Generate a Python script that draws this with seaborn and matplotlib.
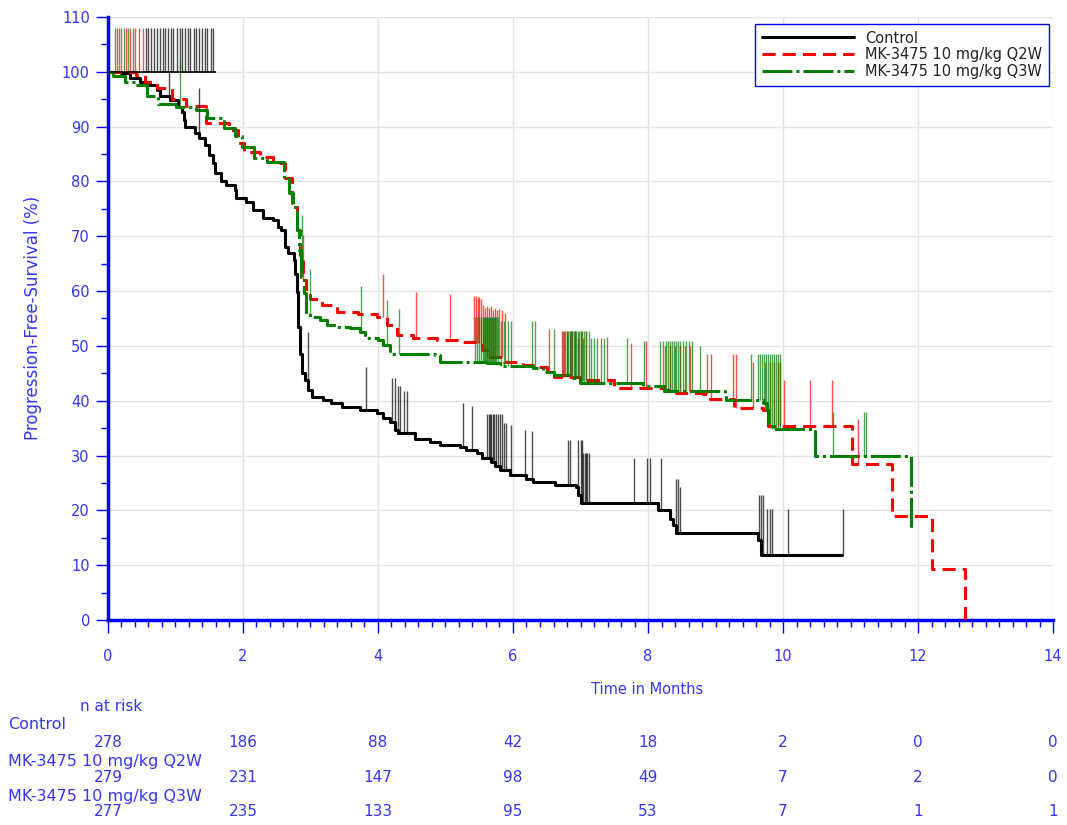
import numpy as np
import pandas as pd
import seaborn as sns
import matplotlib
matplotlib.use("Agg")
import matplotlib.pyplot as plt
from matplotlib.lines import Line2D
from matplotlib.ticker import MultipleLocator

# Kaplan-Meier step curves: time of each drop and survival (%) after it
ctrl_times = [0.20, 0.33, 0.47, 0.60, 0.72, 0.77, 0.92, 1.04, 1.09, 1.12, 1.14, 1.29, 1.35, 1.44,
              1.49, 1.56, 1.59, 1.68, 1.75, 1.88, 1.90, 2.05, 2.15, 2.30, 2.45, 2.52, 2.57, 2.62,
              2.67, 2.75, 2.77, 2.80, 2.82, 2.84, 2.87, 2.92, 2.97, 3.02, 3.19, 3.31, 3.46, 3.73,
              3.98, 4.08, 4.18, 4.25, 4.30, 4.55, 4.77, 4.92, 5.21, 5.31, 5.46, 5.54, 5.68, 5.73,
              5.81, 5.96, 6.20, 6.30, 6.62, 6.94, 6.97, 7.01, 8.15, 8.33, 8.37, 8.42, 9.63, 9.68]
ctrl_surv = [99.7, 98.8, 98.2, 97.6, 96.7, 95.5, 94.9, 93.6, 92.7, 91.2, 90.0, 88.8, 88.0, 86.6,
             84.8, 83.4, 81.6, 80.0, 79.4, 78.4, 76.9, 76.3, 74.8, 73.3, 73.0, 71.7, 71.1, 68.1,
             66.9, 65.7, 63.2, 59.9, 53.5, 48.6, 45.0, 43.8, 42.0, 40.7, 40.1, 39.5, 38.9, 38.3,
             37.7, 36.8, 36.2, 34.7, 34.1, 33.1, 32.5, 31.9, 31.6, 31.0, 30.4, 29.5, 28.9, 28.0,
             27.4, 26.5, 25.8, 25.2, 24.6, 24.3, 22.8, 21.3, 20.1, 18.5, 17.3, 15.9, 14.6, 11.9]
ctrl_end = 10.87

q2w_times = [0.42, 0.55, 0.72, 0.95, 1.15, 1.45, 1.80, 1.93, 2.02, 2.25, 2.45, 2.62, 2.72, 2.80,
             2.84, 2.89, 2.94, 2.99, 3.17, 3.39, 3.71, 3.98, 4.13, 4.28, 4.52, 4.87, 5.24, 5.46,
             5.54, 5.61, 5.86, 6.15, 6.35, 6.50, 6.60, 6.99, 7.49, 8.23, 8.42, 8.82, 8.92, 9.27,
             9.71, 9.78, 11.02, 11.61, 12.21, 12.70]
q2w_surv = [99.5, 98.2, 97.0, 95.0, 93.8, 90.7, 89.4, 87.0, 85.4, 84.5, 83.4, 80.6, 76.0, 71.1,
            66.3, 62.0, 59.3, 58.5, 57.5, 56.2, 55.9, 55.3, 53.8, 52.0, 51.4, 51.1, 50.8, 50.5,
            49.3, 48.0, 47.1, 46.5, 46.2, 45.3, 44.4, 43.8, 42.3, 42.0, 41.4, 41.2, 40.3, 38.6,
            38.3, 35.4, 28.5, 18.9, 9.3, 0.0]
q2w_end = 12.70

q3w_times = [0.08, 0.25, 0.40, 0.58, 0.74, 1.01, 1.30, 1.47, 1.72, 1.88, 1.98, 2.17, 2.35, 2.61,
             2.68, 2.74, 2.80, 2.83, 2.86, 2.90, 2.94, 3.04, 3.14, 3.24, 3.39, 3.59, 3.73, 3.81,
             4.00, 4.08, 4.18, 4.84, 4.92, 5.61, 5.81, 6.30, 6.45, 6.60, 6.89, 6.99, 7.93, 8.23,
             9.14, 9.16, 9.71, 9.76, 9.78, 9.83, 10.45, 10.47, 11.90]
q3w_surv = [99.2, 98.2, 97.6, 95.5, 94.2, 93.6, 93.0, 91.5, 89.7, 88.2, 86.3, 84.2, 83.6, 80.9,
            77.9, 75.3, 71.1, 67.5, 62.6, 59.6, 55.6, 55.3, 54.7, 53.8, 53.5, 53.2, 52.6, 51.4,
            51.1, 50.2, 48.6, 48.3, 47.1, 46.8, 46.3, 45.9, 45.3, 44.7, 44.1, 43.2, 42.6, 41.7,
            41.4, 40.1, 39.5, 38.3, 35.9, 34.8, 34.4, 29.9, 16.4]
q3w_end = 11.90

# censoring needles: time and top of the needle (base sits on the curve)
ctrl_cens_t = [0.90, 1.35, 2.96, 3.82, 4.21, 4.25, 4.29, 4.33, 4.39, 4.43, 5.26, 5.39,
               5.62, 5.64, 5.66, 5.68, 5.70, 5.72, 5.75, 5.78, 5.81, 5.84, 5.87, 5.90, 5.97,
               6.18, 6.28, 6.81, 6.84, 6.97, 7.00, 7.02, 7.04, 7.06, 7.08, 7.10, 7.12,
               7.79, 7.98, 8.03, 8.19, 8.41, 8.45, 8.47, 9.65, 9.68, 9.70, 9.76, 9.80, 9.83,
               10.08, 10.89]
ctrl_cens_top = [100.0, 97.0, 52.6, 46.2, 44.1, 44.1, 42.6, 42.6, 41.8, 41.8, 39.5, 39.0,
                 37.6, 37.6, 37.6, 37.6, 37.6, 37.6, 37.6, 37.6, 37.6, 37.6, 36.0, 36.0, 35.5,
                 34.7, 34.4, 32.9, 32.9, 32.9, 32.9, 32.9, 30.5, 30.5, 30.5, 30.5, 30.5,
                 29.5, 29.5, 29.5, 29.5, 25.7, 25.7, 24.3, 22.8, 22.8, 22.8, 20.2, 20.2, 20.2,
                 20.2, 20.2]

q2w_cens_t = [2.89, 4.08, 4.57, 5.06, 5.42, 5.45, 5.48, 5.50, 5.53, 5.56, 5.58, 5.61, 5.64,
              5.67, 5.70, 5.73, 5.76, 5.80, 5.84, 5.88, 6.53, 6.72, 6.76, 6.80, 6.84, 6.88,
              6.92, 6.96, 7.00, 7.04, 7.08, 7.39, 7.75, 7.97, 8.25, 8.33, 8.40, 8.48, 8.55,
              8.62, 8.87, 8.93, 9.26, 9.31, 9.56, 9.74, 9.80, 9.86, 9.92, 9.96, 10.02, 10.40,
              10.72, 11.11]
q2w_cens_top = [70.2, 63.2, 59.8, 59.5, 59.1, 59.1, 59.0, 58.9, 58.5, 57.5, 57.0, 57.3, 57.0,
                57.2, 56.5, 57.0, 56.5, 56.8, 56.5, 56.0, 53.1, 52.7, 52.7, 52.7, 52.7, 52.7,
                52.7, 51.5, 52.7, 51.5, 52.7, 51.7, 50.6, 50.9, 50.0, 50.0, 50.0, 50.0, 50.0,
                50.0, 48.5, 48.5, 48.5, 48.5, 47.1, 47.1, 47.1, 47.1, 47.1, 47.1, 43.8, 43.8,
                43.8, 36.6]

q3w_cens_t = [1.07, 2.87, 3.00, 3.75, 4.14, 4.31, 5.44, 5.47, 5.50, 5.52, 5.55, 5.57, 5.58,
              5.60, 5.61, 5.63, 5.64, 5.66, 5.67, 5.69, 5.70, 5.72, 5.73, 5.75, 5.78, 5.82,
              5.86, 5.92, 5.97, 6.28, 6.32, 6.60, 6.74, 6.77, 6.80, 6.82, 6.84, 6.86, 6.88,
              6.90, 6.92, 6.94, 6.96, 6.98, 7.00, 7.02, 7.05, 7.08, 7.12, 7.15, 7.20, 7.25,
              7.30, 7.35, 7.69, 7.94, 8.18, 8.22, 8.26, 8.30, 8.33, 8.36, 8.39, 8.42, 8.45,
              8.48, 8.52, 8.56, 8.60, 8.65, 8.77, 9.52, 9.63, 9.66, 9.69, 9.72, 9.75, 9.78,
              9.81, 9.84, 9.87, 9.90, 9.93, 9.96, 10.74, 11.20, 11.23]
q3w_cens_top = [102.3, 73.8, 64.0, 61.0, 58.4, 56.7, 55.2, 55.2, 55.2, 55.2, 55.2, 55.2, 55.2,
                55.2, 55.2, 55.2, 55.2, 55.2, 55.2, 55.2, 55.2, 55.2, 55.2, 55.2, 55.2, 54.5,
                54.5, 54.5, 54.5, 54.6, 54.6, 53.1, 52.7, 52.7, 52.7, 52.7, 52.7, 52.7, 52.7,
                52.7, 52.7, 52.7, 52.7, 52.7, 52.7, 52.7, 52.7, 52.7, 52.7, 51.5, 51.5, 51.5,
                51.5, 51.5, 51.5, 50.9, 50.9, 50.9, 50.9, 50.9, 50.9, 50.9, 50.9, 50.9, 50.9,
                50.9, 50.9, 50.9, 50.9, 50.9, 50.0, 48.5, 48.5, 48.5, 48.5, 48.5, 48.5, 48.5,
                48.5, 48.5, 48.5, 48.5, 48.5, 48.5, 38.0, 38.0, 38.0]

# needles drawn above the 100% line at the start
ctrl_top_t = [0.56, 0.60, 0.64, 0.68, 0.72, 0.77, 0.81, 0.85, 0.89, 0.93, 0.97, 1.02, 1.06,
              1.10, 1.14, 1.18, 1.22, 1.27, 1.31, 1.35, 1.39, 1.43, 1.47, 1.52, 1.56]
q2w_top_t = [0.13, 0.19, 0.26, 0.33, 0.40, 0.46, 0.52]
q3w_top_t = [0.10, 0.17, 0.24, 0.30, 0.37]
top_base, top_tip = 100, 108
top_line_end = 1.6

groups = ["Control", "MK-3475 10 mg/kg Q2W", "MK-3475 10 mg/kg Q3W"]
colors = ["#000000", "#ff0000", "#008000"]
dash_styles = ["", (4.3, 2.3), (9.8, 1.3, 1.0, 1.3)]

# risk table
risk_times = [0, 2, 4, 6, 8, 10, 12, 14]
risk_ctrl = [278, 186, 88, 42, 18, 2, 0, 0]
risk_q2w = [279, 231, 147, 98, 49, 7, 2, 0]
risk_q3w = [277, 235, 133, 95, 53, 7, 1, 1]

BLUE = "#0000ff"
TXT = "#3535ff"

sns.set_theme(style="white")
plt.rcParams["font.family"] = ["DejaVu Sans"]

curve_data = [(ctrl_times, ctrl_surv, ctrl_end), (q2w_times, q2w_surv, q2w_end),
              (q3w_times, q3w_surv, q3w_end)]
frames = []
for g, (tt, ss, end) in zip(groups, curve_data):
    frames.append(pd.DataFrame({"t": [0] + tt + [end], "s": [100] + ss + [ss[-1]], "group": g}))
df = pd.concat(frames, ignore_index=True)

fig = plt.figure(figsize=(10.67, 8.25), dpi=100)
ax = fig.add_axes([0.1012, 0.2485, 0.8857, 0.7309])

ax.grid(True, color="#e3e3e3", linewidth=1)
ax.set_axisbelow(True)

sns.lineplot(data=df, x="t", y="s", hue="group", style="group",
             palette=dict(zip(groups, colors)), dashes=dict(zip(groups, dash_styles)),
             drawstyle="steps-post", estimator=None, sort=False, linewidth=2.2,
             legend=False, ax=ax, zorder=3)


def surv_at(times, surv, t):
    idx = np.searchsorted(times, t, side="right") - 1
    vals = np.array([100.0] + list(surv))
    return vals[idx + 1]


cens = [(ctrl_cens_t, ctrl_cens_top), (q2w_cens_t, q2w_cens_top), (q3w_cens_t, q3w_cens_top)]
tops = [ctrl_top_t, q2w_top_t, q3w_top_t]
for (tt, ss, _), (ct, ctop), tp, col in zip(curve_data, cens, tops, colors):
    base = surv_at(tt, ss, np.array(ct))
    ax.vlines(ct, base, ctop, color=col, linewidth=1.0, alpha=0.7, zorder=4)
    ax.vlines(tp, top_base, top_tip, color=col, linewidth=1.0, alpha=0.7, zorder=4)
ax.hlines(top_base, 0, top_line_end, color="black", linewidth=1.2, zorder=4)

ax.set_xlim(0, 14)
ax.set_ylim(0, 110)
ax.xaxis.set_major_locator(MultipleLocator(2))
ax.xaxis.set_minor_locator(MultipleLocator(0.2))
ax.yaxis.set_major_locator(MultipleLocator(10))
ax.yaxis.set_minor_locator(MultipleLocator(5))
ax.tick_params(axis="both", which="major", direction="out", length=9, width=1, color=BLUE,
               labelcolor=TXT, labelsize=10.5, bottom=True, left=True)
ax.tick_params(axis="both", which="minor", direction="out", length=5, width=1, color=BLUE,
               bottom=True, left=True)
ax.tick_params(axis="x", which="major", pad=12)
ax.tick_params(axis="y", which="major", pad=4)
for side in ["top", "right"]:
    ax.spines[side].set_visible(False)
for side in ["left", "bottom"]:
    ax.spines[side].set_color(BLUE)
    ax.spines[side].set_linewidth(2.5)

ax.set_xlabel("")
ax.set_ylabel("")
ax.text(0.571, -0.116, "Time in Months", transform=ax.transAxes, ha="center", va="center",
        color=TXT, fontsize=10.5)
fig.text(33 / 1067, 1 - 318 / 825, "Progression-Free-Survival (%)", rotation=90,
         ha="center", va="center", color=TXT, fontsize=12)

handles = [Line2D([], [], color=c, linewidth=2.2, dashes=d if d else (None, None))
           for c, d in zip(colors, dash_styles)]
handles[0].set_linestyle("-")
leg = ax.legend(handles, groups, loc="upper right", bbox_to_anchor=(0.9958, 0.9884),
                borderaxespad=0, frameon=True, fancybox=False, framealpha=1,
                edgecolor=BLUE, fontsize=10.5, handlelength=6.3, handletextpad=0.8,
                labelspacing=0.12, borderpad=0.45)
leg.get_frame().set_linewidth(1.0)
for t in leg.get_texts():
    t.set_color("#222222")

# number at risk table
xf = ax.get_xaxis_transform()
ax.text(-0.03, -0.144, "n at risk", transform=ax.transAxes, ha="left", va="center",
        color=TXT, fontsize=11)
row_label_y = [-0.174, -0.234, -0.292]
row_num_y = [-0.204, -0.262, -0.318]
for g, ly, ny, counts in zip(groups, row_label_y, row_num_y, [risk_ctrl, risk_q2w, risk_q3w]):
    ax.text(-100 / 945, ly, g, transform=ax.transAxes, ha="left", va="center",
            color=TXT, fontsize=11.5)
    for x, n in zip(risk_times, counts):
        ax.text(x, ny, str(n), transform=xf, ha="center", va="center", color=TXT,
                fontsize=11, clip_on=False)

fig.savefig("out.png", dpi=100)
